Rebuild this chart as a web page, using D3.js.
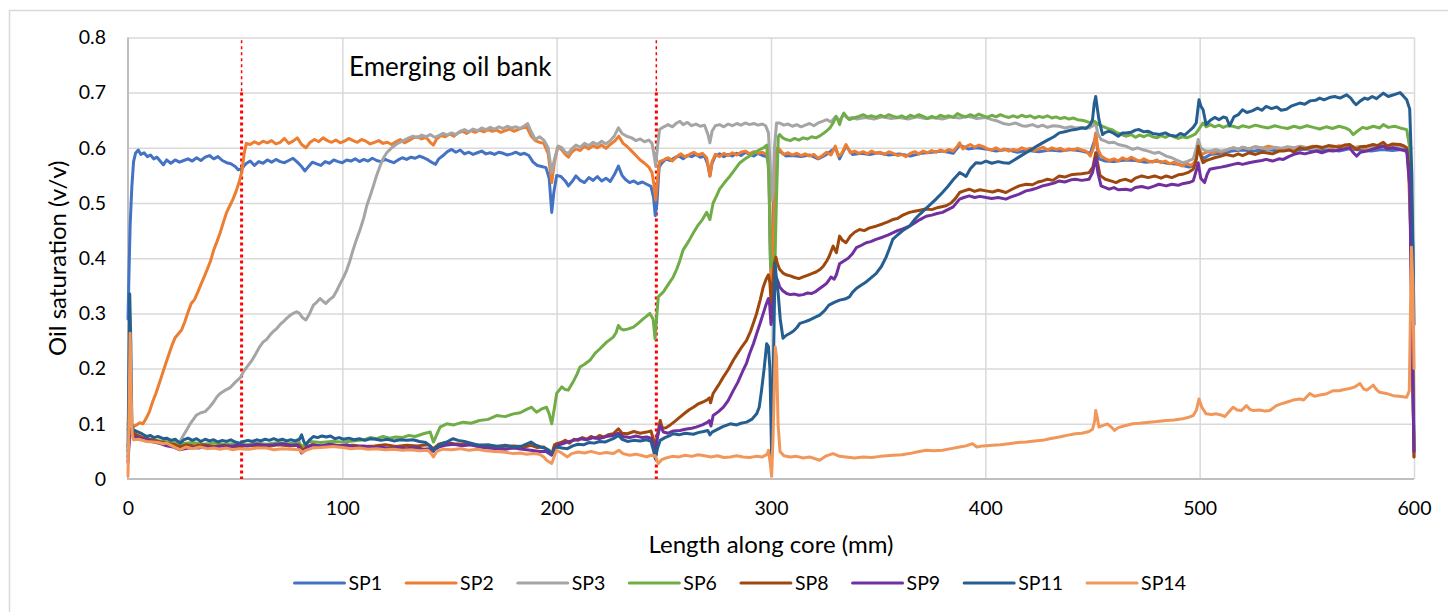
<!DOCTYPE html>
<html>
<head>
<meta charset="utf-8">
<script src="https://cdn.jsdelivr.net/npm/d3@7"></script>
<style>
  html, body { margin: 0; padding: 0; background: #fff; }
  svg { display: block; font-family: Lato, "Open Sans", sans-serif; }
</style>
</head>
<body>
<svg id="chart" width="1448" height="612"></svg>
<script>
// ---- data: oil saturation profiles along the core, [position (mm), saturation (v/v)] ----
const seriesNames = ["SP1", "SP2", "SP3", "SP6", "SP8", "SP9", "SP11", "SP14"];
const seriesColors = ["#4472C4", "#ED7D31", "#A5A5A5", "#70AD47", "#9E480E", "#7030A0", "#255E91", "#F1975A"];

const xTicks = [0, 100, 200, 300, 400, 500, 600];
const yTicks = [0, 0.1, 0.2, 0.3, 0.4, 0.5, 0.6, 0.7, 0.8];
const yTickLabels = ["0", "0.1", "0.2", "0.3", "0.4", "0.5", "0.6", "0.7", "0.8"];

const bankBounds = [53, 246.5];
const bankLabel = "Emerging oil bank";
const xTitle = "Length along core (mm)";
const yTitle = "Oil saturation (v/v)";

const sp1 = [[0,0.29],[0.5,0.38],[1,0.46],[1.8,0.53],[2.6,0.575],[3.5,0.59],[4.8,0.596],[6,0.588],[7.5,0.591],[9,0.584],[10.5,0.587],[12,0.58],[13.5,0.583],[15,0.576],[16.5,0.569],[18,0.578],[20,0.572],[22,0.578],[24,0.574],[26,0.577],[28,0.58],[30,0.576],[32,0.582],[34,0.577],[36,0.583],[38,0.586],[40,0.58],[42,0.584],[44,0.577],[46,0.573],[48,0.571],[50,0.566],[51.5,0.56],[53,0.562],[55,0.571],[57,0.576],[59,0.568],[61,0.575],[63,0.572],[65,0.578],[67,0.574],[69,0.579],[71,0.575],[73,0.573],[75,0.577],[77,0.581],[79,0.574],[81,0.566],[82.5,0.558],[84,0.565],[86,0.574],[88,0.571],[90,0.568],[92,0.575],[94,0.572],[96,0.578],[98,0.575],[100,0.573],[102,0.578],[104,0.576],[106,0.58],[108,0.575],[110,0.579],[112,0.576],[114,0.581],[116,0.577],[118,0.575],[120,0.579],[122,0.576],[124,0.573],[126,0.578],[128,0.582],[130,0.579],[132,0.583],[134,0.581],[136,0.585],[138,0.582],[140,0.578],[142,0.573],[143.5,0.57],[145,0.58],[147,0.586],[149,0.593],[151,0.597],[153,0.592],[155,0.596],[157,0.589],[159,0.592],[161,0.588],[163,0.591],[165,0.594],[167,0.589],[169,0.591],[171,0.588],[173,0.592],[175,0.59],[177,0.587],[179,0.589],[181,0.592],[183,0.588],[185,0.59],[187,0.586],[189,0.574],[191,0.568],[193,0.566],[195,0.564],[196.5,0.545],[197.7,0.483],[198.7,0.52],[200,0.55],[202,0.548],[204,0.54],[205.5,0.531],[207,0.538],[209,0.549],[211,0.541],[213,0.537],[215,0.546],[217,0.541],[219,0.548],[221,0.54],[223,0.545],[225,0.539],[227,0.552],[228.8,0.567],[230.5,0.55],[232,0.543],[234,0.537],[236,0.54],[238,0.535],[240,0.538],[242,0.534],[244,0.53],[245.2,0.51],[246,0.477],[246.8,0.5],[247.8,0.565],[249,0.572],[251,0.58],[253,0.577],[255,0.582],[257,0.585],[259,0.58],[261,0.586],[263,0.584],[265,0.588],[267,0.583],[269,0.585],[270.5,0.57],[271.5,0.549],[272.5,0.572],[274,0.585],[276,0.589],[278,0.584],[280,0.588],[282,0.585],[284,0.59],[286,0.586],[288,0.592],[290,0.588],[292,0.585],[294,0.59],[296,0.586],[298,0.584],[299,0.57],[299.7,0.4],[300.4,0.35],[301,0.45],[301.6,0.58],[302.5,0.59],[304,0.594],[307,0.585],[310,0.586],[314,0.584],[318,0.587],[322,0.58],[326,0.588],[330,0.6],[332,0.58],[335,0.603],[338,0.588],[342,0.59],[346,0.588],[350,0.591],[355,0.587],[360,0.589],[365,0.585],[370,0.59],[375,0.592],[380,0.594],[385,0.59],[388,0.605],[392,0.598],[396,0.6],[400,0.598],[405,0.594],[410,0.597],[415,0.592],[420,0.595],[425,0.593],[430,0.596],[435,0.594],[440,0.597],[445,0.594],[449,0.59],[451.5,0.62],[453,0.58],[456,0.576],[460,0.575],[465,0.578],[470,0.577],[475,0.574],[480,0.576],[485,0.572],[490,0.57],[495,0.565],[497.5,0.568],[499.5,0.6],[501.5,0.58],[505,0.588],[510,0.59],[515,0.594],[520,0.596],[525,0.594],[530,0.597],[535,0.595],[540,0.598],[545,0.596],[550,0.598],[555,0.595],[560,0.597],[565,0.594],[570,0.598],[575,0.596],[580,0.594],[585,0.597],[590,0.595],[594,0.597],[597,0.592],[598.5,0.5],[599.5,0.42],[600,0.06]];

const sp2 = [[0,0.06],[1,0.09],[2.5,0.095],[4,0.098],[5.5,0.102],[7,0.1],[8.5,0.11],[10,0.122],[11.5,0.14],[13,0.155],[14.5,0.172],[16,0.19],[17.5,0.208],[19,0.225],[20.5,0.242],[22,0.256],[23.5,0.263],[25,0.27],[26.5,0.285],[28,0.302],[29.5,0.318],[31,0.325],[32.5,0.338],[34,0.352],[35.5,0.366],[37,0.38],[38.5,0.395],[40,0.415],[41.5,0.43],[43,0.446],[44.5,0.465],[46,0.483],[47.5,0.495],[49,0.507],[50.5,0.522],[52,0.54],[53.2,0.558],[54.2,0.59],[55.2,0.608],[57,0.606],[59,0.611],[61,0.607],[63,0.612],[65,0.609],[67,0.613],[69,0.607],[71,0.61],[73,0.617],[75,0.608],[77,0.612],[79,0.618],[81,0.606],[83,0.6],[85,0.61],[87,0.615],[89,0.611],[91,0.618],[93,0.613],[95,0.61],[97,0.614],[99,0.609],[101,0.612],[103,0.617],[105,0.613],[107,0.61],[109,0.615],[111,0.612],[113,0.607],[115,0.61],[117,0.613],[119,0.608],[121,0.61],[123,0.606],[125,0.611],[127,0.615],[129,0.609],[131,0.613],[133,0.618],[135,0.62],[137,0.616],[139,0.619],[141,0.61],[142.5,0.605],[144,0.616],[146,0.622],[148,0.62],[150,0.625],[152,0.621],[154,0.627],[156,0.63],[158,0.626],[160,0.631],[162,0.628],[164,0.632],[166,0.629],[168,0.633],[170,0.63],[172,0.632],[174,0.628],[176,0.631],[178,0.634],[180,0.63],[182,0.633],[184,0.636],[186,0.638],[188,0.622],[190,0.613],[192,0.61],[194,0.608],[196,0.59],[197.7,0.537],[199,0.575],[200.5,0.602],[202,0.598],[204,0.588],[205.5,0.583],[207,0.592],[209,0.598],[211,0.595],[213,0.603],[215,0.598],[217,0.604],[219,0.6],[221,0.605],[223,0.599],[225,0.606],[227,0.612],[229,0.621],[231,0.608],[233,0.602],[235,0.594],[237,0.586],[239,0.578],[241,0.572],[243,0.565],[244.5,0.555],[245.5,0.53],[246.2,0.505],[247,0.54],[248,0.575],[250,0.578],[252,0.582],[254,0.576],[256,0.584],[258,0.589],[260,0.583],[262,0.588],[264,0.592],[266,0.587],[268,0.59],[270,0.582],[271.5,0.549],[272.5,0.575],[274,0.588],[276,0.584],[278,0.59],[280,0.586],[282,0.591],[284,0.587],[286,0.592],[288,0.594],[290,0.589],[292,0.593],[294,0.59],[296,0.592],[298,0.588],[299,0.57],[299.6,0.45],[300.2,0.33],[300.8,0.36],[301.4,0.5],[302,0.59],[303,0.6],[304,0.597],[306,0.588],[308,0.591],[310,0.587],[312,0.59],[314,0.586],[316,0.589],[318,0.585],[320,0.588],[322,0.581],[324,0.586],[326,0.592],[328,0.587],[330,0.603],[331.5,0.585],[333,0.59],[335,0.606],[337,0.591],[339,0.594],[341,0.59],[343,0.593],[345,0.589],[347,0.594],[349,0.59],[351,0.592],[353,0.588],[355,0.593],[357,0.59],[359,0.586],[361,0.588],[363,0.584],[365,0.59],[367,0.593],[369,0.589],[371,0.594],[373,0.591],[375,0.595],[377,0.592],[379,0.596],[381,0.593],[383,0.597],[385,0.594],[387,0.603],[388,0.609],[389.5,0.598],[391,0.602],[393,0.606],[395,0.601],[397,0.605],[399,0.602],[401,0.598],[403,0.596],[405,0.6],[407,0.595],[409,0.598],[411,0.594],[413,0.597],[415,0.595],[417,0.6],[419,0.597],[421,0.599],[423,0.595],[425,0.598],[427,0.601],[429,0.596],[431,0.6],[433,0.597],[435,0.599],[437,0.595],[439,0.598],[441,0.596],[443,0.599],[445,0.596],[447,0.594],[449,0.585],[450.5,0.6],[451.5,0.627],[452.5,0.598],[454,0.585],[456,0.58],[458,0.577],[460,0.58],[462,0.576],[464,0.582],[466,0.578],[468,0.583],[470,0.579],[472,0.575],[474,0.58],[476,0.576],[478,0.574],[480,0.578],[482,0.573],[484,0.576],[486,0.571],[488,0.574],[490,0.57],[492,0.567],[494,0.572],[496,0.568],[498,0.575],[499.3,0.603],[500.5,0.588],[502,0.59],[504,0.593],[506,0.59],[508,0.594],[510,0.592],[512,0.595],[514,0.598],[516,0.6],[518,0.597],[520,0.601],[523,0.598],[526,0.602],[529,0.599],[532,0.603],[535,0.6],[538,0.597],[541,0.601],[544,0.598],[547,0.602],[550,0.6],[553,0.603],[556,0.599],[559,0.602],[562,0.6],[565,0.604],[568,0.601],[571,0.598],[574,0.602],[577,0.599],[580,0.603],[583,0.6],[586,0.604],[589,0.601],[592,0.603],[595,0.6],[597,0.598],[598.5,0.45],[600,0.05]];

const sp3 = [[0,0.1],[1,0.085],[2.5,0.078],[5,0.075],[8,0.072],[11,0.07],[14,0.068],[17,0.066],[20,0.066],[22,0.064],[24.3,0.068],[26,0.08],[27.4,0.089],[29,0.1],[30.5,0.108],[32,0.116],[34,0.12],[36,0.122],[38,0.13],[40,0.14],[41.5,0.149],[43,0.155],[45,0.16],[47.5,0.165],[50,0.175],[52.3,0.183],[54,0.195],[55.5,0.203],[57.5,0.213],[59.5,0.226],[61.5,0.24],[63,0.248],[64.7,0.253],[66.5,0.262],[68,0.268],[69.5,0.273],[71,0.28],[72.5,0.285],[74,0.291],[75.5,0.296],[77,0.3],[78.7,0.303],[80,0.3],[81.5,0.292],[83,0.288],[84.5,0.298],[86.5,0.315],[88,0.32],[89.6,0.327],[91,0.322],[92.3,0.318],[94,0.325],[95.8,0.33],[97.5,0.342],[99,0.354],[100.5,0.365],[102,0.378],[103.5,0.395],[105,0.415],[106.7,0.435],[108.3,0.452],[110,0.473],[111.4,0.495],[113,0.513],[114.5,0.531],[116,0.55],[117.6,0.567],[119,0.58],[120.7,0.591],[122.5,0.598],[125,0.606],[127,0.61],[129,0.614],[131,0.618],[133,0.621],[135,0.618],[137,0.623],[139,0.62],[141,0.624],[143,0.619],[145,0.622],[147,0.626],[149,0.623],[151,0.627],[153,0.624],[155,0.63],[157,0.633],[159,0.629],[161,0.634],[163,0.631],[165,0.636],[167,0.633],[169,0.637],[171,0.634],[173,0.638],[175,0.635],[177,0.639],[179,0.636],[181,0.638],[183,0.635],[185,0.64],[186.5,0.644],[188,0.63],[190,0.615],[192,0.62],[194,0.614],[196,0.6],[197.7,0.555],[199,0.58],[200.8,0.603],[202.5,0.6],[204,0.592],[205.5,0.59],[207,0.598],[209,0.605],[211,0.601],[213,0.608],[215,0.604],[217,0.61],[219,0.606],[221,0.612],[223,0.607],[225,0.613],[227,0.622],[228.8,0.636],[230.5,0.626],[232.7,0.621],[235,0.618],[237,0.613],[239,0.616],[241,0.611],[243,0.614],[244.5,0.608],[245.5,0.585],[246.2,0.567],[247,0.6],[248,0.633],[250,0.638],[252,0.642],[254,0.638],[256,0.645],[257.5,0.648],[259,0.642],[261,0.646],[263,0.64],[265,0.643],[267,0.639],[269,0.641],[270.5,0.625],[271.5,0.609],[272.5,0.63],[274,0.64],[276,0.642],[278,0.638],[280,0.643],[282,0.64],[284,0.644],[286,0.641],[288,0.645],[290,0.642],[292,0.644],[294,0.641],[296,0.643],[297.5,0.64],[298.8,0.627],[299.6,0.57],[300.3,0.505],[301,0.52],[301.6,0.6],[302.6,0.645],[304,0.645],[306,0.641],[308,0.643],[310,0.639],[312,0.642],[314,0.638],[316,0.641],[318,0.644],[320,0.64],[322,0.645],[324,0.648],[326,0.651],[328,0.647],[330,0.656],[332,0.65],[334,0.66],[336,0.653],[338,0.655],[340,0.652],[344,0.655],[348,0.652],[352,0.656],[356,0.653],[360,0.655],[364,0.652],[368,0.656],[372,0.653],[376,0.655],[380,0.652],[384,0.656],[388,0.654],[392,0.657],[396,0.653],[400,0.655],[403,0.651],[406,0.648],[408.5,0.644],[411,0.642],[414,0.645],[417,0.64],[419,0.639],[422,0.642],[424.5,0.638],[426.7,0.641],[429,0.637],[431.5,0.64],[434.5,0.639],[437,0.636],[440,0.638],[442,0.636],[445,0.637],[448.4,0.636],[450.3,0.64],[451.5,0.645],[452.5,0.625],[454,0.615],[456,0.612],[457.8,0.609],[460,0.61],[462,0.606],[465.5,0.603],[468.8,0.597],[471,0.6],[473,0.597],[476,0.594],[479,0.59],[481,0.592],[484.4,0.585],[487,0.582],[489,0.578],[492,0.573],[494,0.575],[497,0.58],[498.5,0.6],[499.3,0.615],[500.5,0.6],[501.6,0.597],[503,0.594],[505,0.594],[507.5,0.597],[510,0.594],[512.5,0.596],[515.6,0.6],[518,0.597],[520,0.601],[523,0.598],[526,0.602],[529,0.6],[532,0.597],[535,0.601],[538,0.599],[541,0.602],[544,0.6],[547,0.603],[550,0.6],[553,0.598],[556,0.602],[559,0.6],[562,0.603],[565,0.601],[568,0.598],[571,0.602],[574,0.6],[577,0.603],[580,0.6],[583,0.603],[586,0.601],[589,0.604],[592,0.601],[595,0.599],[596.6,0.597],[598,0.55],[599,0.3],[600,0.04]];

const sp6 = [[0,0.09],[1,0.085],[2.5,0.08],[5,0.076],[10,0.072],[15,0.069],[20,0.067],[25,0.064],[30,0.066],[35,0.063],[40,0.065],[45,0.063],[50,0.064],[55,0.062],[60,0.065],[65,0.063],[70,0.066],[75,0.064],[80,0.066],[81,0.058],[83,0.065],[85,0.068],[90,0.066],[95,0.068],[100,0.067],[105,0.069],[110,0.071],[113,0.075],[116,0.073],[119,0.077],[122,0.074],[125,0.076],[128,0.075],[131,0.079],[134,0.077],[137.8,0.082],[141,0.085],[142.5,0.067],[144,0.08],[145.6,0.094],[148.7,0.1],[152,0.098],[156.4,0.103],[160,0.101],[164,0.106],[168,0.108],[172,0.115],[176,0.113],[179.8,0.118],[183,0.12],[186,0.126],[188.3,0.13],[190.6,0.121],[193,0.127],[195.3,0.13],[196.5,0.118],[197.7,0.1],[199,0.13],[200,0.155],[202.4,0.167],[204,0.162],[205.4,0.161],[207.7,0.176],[209.5,0.19],[210.9,0.203],[213,0.208],[215.5,0.215],[218,0.228],[220.2,0.236],[223.3,0.248],[226.4,0.257],[227.7,0.265],[228.8,0.278],[230,0.272],[231.1,0.27],[233.5,0.272],[235.8,0.275],[238,0.282],[240.4,0.29],[242,0.295],[243.5,0.3],[245,0.29],[245.9,0.254],[246.6,0.29],[247.4,0.33],[249.8,0.339],[252,0.352],[254.4,0.366],[256,0.38],[257.5,0.396],[259,0.415],[261.5,0.43],[263.8,0.446],[266,0.46],[268,0.47],[270,0.483],[271.5,0.47],[273,0.5],[274.5,0.512],[276,0.525],[278.5,0.538],[280.9,0.549],[283,0.56],[285.5,0.573],[288,0.58],[290,0.585],[292.5,0.592],[294.9,0.597],[296.5,0.6],[298,0.605],[299,0.55],[299.8,0.384],[300.5,0.395],[301.2,0.4],[301.8,0.385],[302.5,0.5],[303.4,0.62],[304,0.624],[305.5,0.618],[307,0.615],[309,0.613],[311,0.617],[313,0.614],[315,0.618],[317,0.616],[319,0.62],[321,0.618],[323,0.622],[325.8,0.63],[327.5,0.636],[329,0.645],[330.4,0.657],[331.5,0.648],[332,0.642],[333,0.655],[334,0.663],[335.5,0.655],[336.6,0.651],[338.5,0.654],[341,0.657],[343,0.66],[345,0.656],[347,0.658],[349,0.655],[351,0.659],[353,0.656],[355,0.66],[357,0.657],[359,0.655],[361,0.658],[363,0.654],[365,0.659],[367,0.656],[369,0.66],[371,0.657],[373,0.653],[375,0.657],[377,0.654],[379,0.659],[381,0.656],[383,0.658],[385,0.655],[387,0.662],[389,0.658],[391,0.656],[393,0.66],[395,0.657],[397,0.661],[399,0.658],[401,0.655],[403,0.659],[405,0.656],[407,0.66],[409,0.657],[411,0.655],[413,0.658],[415,0.655],[417,0.659],[419,0.656],[421,0.658],[423,0.654],[425,0.657],[427,0.655],[429,0.658],[431,0.654],[433,0.656],[435,0.653],[437,0.655],[439,0.652],[441,0.654],[443,0.651],[445,0.65],[447,0.648],[449,0.645],[451,0.648],[452.5,0.643],[454.7,0.639],[457,0.635],[459,0.633],[461,0.628],[463,0.625],[465.5,0.621],[468,0.624],[470,0.619],[472,0.623],[474,0.62],[476,0.624],[478,0.62],[480,0.618],[482,0.622],[484,0.619],[486,0.623],[488,0.62],[490,0.617],[492,0.62],[494,0.618],[496,0.621],[498,0.625],[499.5,0.633],[501.6,0.645],[503,0.638],[505,0.642],[507,0.638],[509,0.641],[511,0.637],[513,0.64],[515.6,0.639],[518,0.636],[520,0.64],[523,0.637],[526,0.641],[529,0.638],[532,0.636],[535,0.64],[538,0.637],[541,0.635],[544,0.639],[547,0.636],[550,0.64],[553,0.637],[556,0.634],[559,0.638],[562,0.635],[565,0.639],[568,0.636],[570,0.632],[571.6,0.624],[573.5,0.63],[576,0.637],[578,0.635],[581,0.639],[584,0.636],[585.7,0.642],[588,0.637],[591,0.639],[593.5,0.636],[596.6,0.633],[598,0.6],[599,0.3],[600,0.05]];

const sp8 = [[0,0.04],[0.8,0.09],[2,0.085],[4,0.08],[7,0.075],[10,0.072],[14,0.068],[18,0.065],[22,0.062],[24.5,0.058],[27,0.062],[31,0.06],[35,0.062],[40,0.059],[45,0.061],[50,0.058],[55,0.06],[60,0.061],[65,0.059],[70,0.062],[75,0.06],[80,0.061],[81.5,0.052],[83,0.058],[86,0.062],[90,0.06],[95,0.062],[100,0.06],[105,0.061],[110,0.059],[115,0.06],[120,0.062],[125,0.059],[130,0.061],[135,0.06],[140,0.062],[142.5,0.055],[145,0.063],[148,0.066],[152,0.064],[156,0.063],[160,0.062],[165,0.061],[170,0.06],[175,0.059],[180,0.06],[185,0.058],[188,0.061],[191,0.057],[194,0.058],[197.7,0.045],[199,0.062],[200,0.064],[202,0.066],[204,0.07],[206,0.065],[208,0.072],[210,0.07],[212,0.075],[214,0.072],[216,0.077],[218,0.074],[220,0.079],[222,0.076],[224,0.08],[226.4,0.082],[228.8,0.091],[230.5,0.083],[233,0.082],[236,0.086],[239,0.083],[242,0.085],[244,0.087],[245.3,0.07],[246,0.052],[247,0.08],[248.3,0.106],[249.3,0.092],[251,0.093],[253,0.098],[255,0.104],[257.5,0.112],[260,0.12],[262,0.126],[263.8,0.13],[266,0.136],[268,0.139],[270,0.143],[271.3,0.147],[271.8,0.138],[273,0.155],[275.5,0.17],[277.8,0.185],[280,0.198],[282.4,0.215],[284.5,0.228],[286.5,0.24],[288.6,0.251],[290.5,0.268],[292,0.285],[293.3,0.3],[295,0.325],[296.4,0.348],[297.7,0.362],[298.8,0.37],[299.5,0.355],[300.2,0.31],[300.8,0.35],[301.5,0.39],[302.3,0.402],[303,0.39],[304,0.38],[305.6,0.373],[307,0.37],[309,0.368],[311,0.365],[313,0.363],[315,0.366],[317,0.369],[319,0.372],[321,0.375],[323,0.38],[324.5,0.386],[326,0.395],[327,0.402],[329,0.422],[330.5,0.41],[332,0.44],[333.5,0.432],[335,0.428],[337,0.44],[339,0.447],[341.3,0.452],[343.5,0.45],[346,0.455],[349,0.458],[352,0.462],[354.5,0.466],[356.8,0.47],[359,0.472],[361.5,0.478],[364.6,0.483],[367,0.485],[369.5,0.487],[372,0.489],[375,0.488],[378,0.492],[381.7,0.495],[384,0.5],[386,0.508],[388,0.519],[390,0.522],[392.5,0.525],[395,0.521],[397.5,0.524],[400.3,0.522],[403.4,0.52],[406,0.523],[409.6,0.519],[412,0.524],[415.8,0.531],[419,0.534],[422,0.533],[424.5,0.538],[426.7,0.54],[429,0.543],[431.5,0.541],[434.5,0.549],[437,0.547],[440,0.551],[442,0.552],[445,0.553],[448.4,0.555],[450.2,0.565],[451.5,0.591],[452.5,0.57],[453.5,0.55],[456,0.543],[458.5,0.54],[461,0.537],[463,0.541],[465.5,0.543],[468,0.539],[470,0.545],[473,0.549],[476,0.546],[479,0.549],[482,0.545],[484.4,0.549],[487,0.546],[490,0.551],[492,0.552],[495,0.556],[497,0.561],[498.5,0.58],[499.3,0.603],[500.5,0.585],[501.6,0.573],[503,0.577],[504.7,0.579],[507,0.582],[510,0.585],[512.5,0.588],[515.6,0.585],[518,0.589],[520,0.586],[523,0.591],[526,0.588],[529,0.592],[531,0.591],[534,0.589],[537,0.594],[539,0.594],[542,0.596],[544,0.592],[546.7,0.6],[549,0.598],[552,0.601],[554.5,0.603],[557,0.6],[560,0.604],[562.3,0.603],[565,0.601],[567.5,0.605],[570,0.606],[572,0.6],[573.5,0.597],[575,0.602],[578,0.603],[581,0.606],[583,0.604],[585.7,0.61],[587.5,0.603],[590,0.607],[593.5,0.606],[595,0.604],[596.6,0.6],[598,0.55],[599,0.3],[600,0.04]];

const sp9 = [[0,0.03],[0.8,0.085],[2.5,0.077],[5,0.074],[8.7,0.071],[12,0.067],[15,0.064],[18,0.06],[21,0.058],[24,0.053],[27,0.055],[30,0.057],[33,0.056],[36,0.059],[40,0.057],[44,0.06],[48,0.059],[52,0.062],[56,0.06],[60,0.063],[64,0.061],[68,0.062],[72,0.064],[76,0.061],[79,0.062],[81,0.047],[83,0.055],[86,0.062],[90,0.06],[94,0.063],[98,0.06],[102,0.062],[106,0.058],[110,0.06],[114,0.057],[118,0.058],[122,0.055],[126,0.057],[130,0.055],[134,0.057],[138,0.054],[140.5,0.055],[142.5,0.05],[145,0.058],[148,0.061],[152,0.063],[156,0.06],[160,0.062],[164,0.058],[168,0.056],[172,0.055],[176,0.054],[180,0.056],[184,0.054],[188,0.052],[192,0.05],[195,0.05],[197.7,0.043],[199,0.055],[200,0.06],[202,0.063],[205,0.067],[208,0.07],[211,0.073],[214,0.071],[217,0.075],[220,0.073],[223,0.077],[226.4,0.079],[228.8,0.083],[231,0.077],[234,0.075],[237,0.078],[240,0.075],[242,0.076],[244,0.074],[245.2,0.06],[246,0.046],[247,0.075],[248.3,0.097],[249.8,0.085],[252,0.083],[254.5,0.087],[257.5,0.088],[260,0.09],[263,0.092],[265,0.094],[268,0.098],[270.5,0.103],[271.2,0.106],[272,0.096],[273,0.115],[275.5,0.122],[277.8,0.13],[280,0.142],[282.4,0.16],[284.5,0.175],[287,0.197],[288.6,0.21],[290,0.227],[291.8,0.245],[293.3,0.263],[295,0.283],[296.4,0.3],[297.6,0.315],[298.8,0.327],[299.4,0.315],[300,0.28],[300.7,0.3],[301.5,0.34],[302.5,0.365],[303.5,0.355],[304,0.348],[305.5,0.341],[307.3,0.336],[309,0.334],[311,0.335],[313,0.333],[315,0.334],[317,0.337],[319,0.336],[321,0.34],[322.7,0.345],[324.5,0.35],[325.8,0.354],[327,0.36],[328,0.366],[329.5,0.362],[330.5,0.37],[332,0.39],[334,0.395],[336,0.4],[338,0.408],[339.8,0.419],[342,0.423],[344.4,0.428],[346.5,0.43],[349,0.434],[352,0.438],[354.5,0.442],[356.8,0.446],[359,0.45],[361.5,0.453],[364.6,0.458],[367,0.464],[369.5,0.47],[372.4,0.476],[375,0.478],[377.5,0.481],[380,0.483],[382.5,0.488],[385,0.493],[388,0.507],[390,0.51],[392.5,0.513],[395,0.51],[397.5,0.512],[400.3,0.51],[403,0.508],[406,0.51],[409.6,0.507],[412,0.511],[415.8,0.516],[419,0.522],[421.5,0.524],[424,0.527],[426.7,0.531],[429,0.533],[432,0.536],[434.5,0.54],[437,0.538],[440,0.542],[442,0.543],[445,0.541],[448.4,0.543],[450,0.555],[451.5,0.582],[452.5,0.555],[454,0.531],[456,0.528],[457.8,0.525],[460,0.528],[462,0.524],[465.5,0.525],[468,0.523],[470,0.528],[473,0.53],[476,0.527],[479,0.531],[481,0.534],[484.4,0.531],[487,0.534],[490,0.532],[492,0.535],[495,0.537],[497,0.54],[498.5,0.56],[499.3,0.573],[500.5,0.545],[502.3,0.537],[503.5,0.552],[504.7,0.561],[507,0.563],[510,0.565],[512.5,0.567],[515.6,0.57],[518,0.572],[520,0.57],[523,0.573],[526,0.575],[529,0.577],[531,0.579],[534,0.576],[537,0.58],[539,0.579],[542,0.585],[544,0.588],[546.7,0.591],[549,0.589],[552,0.592],[554.5,0.594],[557,0.591],[560,0.595],[562.3,0.594],[565,0.596],[567.5,0.598],[570,0.6],[571.5,0.592],[573.2,0.585],[575,0.592],[578,0.594],[581,0.598],[583,0.6],[585.7,0.603],[587.5,0.598],[590,0.6],[593.5,0.597],[596.6,0.595],[598,0.53],[599,0.28],[600,0.05]];

const sp11 = [[0,0.05],[0.4,0.2],[0.8,0.335],[1.3,0.25],[1.8,0.1],[2.5,0.089],[4.8,0.085],[6.5,0.082],[8.7,0.077],[10.5,0.079],[12,0.075],[14,0.077],[16.5,0.073],[18,0.074],[20,0.07],[22,0.072],[24.3,0.065],[26,0.071],[28,0.074],[30,0.07],[32,0.073],[34,0.068],[36,0.072],[38,0.069],[40,0.071],[42,0.067],[44,0.07],[46,0.068],[48,0.071],[50,0.067],[52,0.065],[54,0.068],[56,0.07],[58,0.068],[60,0.071],[62,0.069],[64,0.072],[66,0.07],[68,0.073],[70,0.07],[72,0.072],[74,0.069],[76,0.071],[78,0.069],[80,0.072],[81,0.08],[82,0.068],[83,0.062],[84.5,0.07],[86.5,0.077],[88.5,0.075],[90.5,0.078],[92.5,0.076],[94.5,0.078],[96.5,0.073],[98.5,0.075],[100.5,0.072],[103,0.074],[105.5,0.071],[108,0.073],[110.5,0.07],[113,0.073],[115.5,0.072],[118,0.07],[121,0.072],[124,0.069],[127,0.071],[130,0.07],[133,0.071],[136,0.068],[139,0.066],[141,0.06],[142.5,0.052],[144,0.058],[146,0.063],[148.7,0.067],[151.7,0.073],[154,0.07],[157,0.068],[160,0.065],[164,0.061],[168,0.062],[172,0.059],[176,0.061],[180,0.058],[184,0.06],[188,0.067],[190,0.062],[192.5,0.058],[195,0.055],[196.5,0.052],[197.7,0.046],[199,0.052],[200,0.058],[202.5,0.056],[205,0.055],[207.5,0.06],[210,0.063],[212.5,0.062],[215,0.066],[217.5,0.065],[220,0.068],[222.5,0.067],[225,0.071],[226.4,0.073],[228.8,0.079],[230.5,0.072],[233,0.068],[236,0.07],[239,0.069],[242,0.071],[244,0.068],[245.3,0.05],[246,0.037],[247,0.055],[248.3,0.07],[250.5,0.075],[252.5,0.078],[254.4,0.082],[257,0.08],[260,0.083],[263.8,0.081],[266,0.084],[268.5,0.086],[270.5,0.088],[271.5,0.08],[272.5,0.085],[275,0.09],[277.5,0.095],[281,0.1],[284,0.098],[286,0.101],[288.6,0.103],[291,0.108],[293.3,0.118],[294.5,0.13],[295.6,0.161],[296.8,0.2],[298,0.245],[298.8,0.24],[299.5,0.2],[300.3,0.04],[301.1,0.2],[301.9,0.39],[302.6,0.36],[303.3,0.338],[304.3,0.29],[305.6,0.255],[307,0.26],[308.9,0.264],[310.5,0.268],[312,0.274],[313.5,0.282],[316,0.285],[318,0.288],[320,0.292],[322.7,0.297],[325,0.305],[327,0.315],[329.5,0.32],[332,0.324],[334.5,0.326],[336.6,0.33],[338,0.338],[339.8,0.345],[342,0.351],[344.4,0.357],[346.5,0.364],[349,0.372],[351.5,0.385],[353.7,0.402],[355,0.415],[356.8,0.434],[359,0.442],[361.5,0.45],[364.6,0.458],[367,0.47],[369.5,0.48],[372,0.489],[374.5,0.498],[377,0.507],[380,0.519],[382.5,0.53],[385,0.542],[388,0.555],[389.5,0.552],[391,0.548],[393,0.562],[395.6,0.573],[398,0.572],[400.3,0.576],[403,0.572],[406,0.575],[408.5,0.573],[411,0.572],[413.5,0.578],[416,0.584],[419,0.591],[422,0.598],[424.5,0.604],[426.7,0.609],[429,0.614],[432,0.62],[434.5,0.627],[437,0.629],[440,0.632],[442,0.633],[445,0.636],[447,0.635],[449,0.642],[450,0.651],[450.8,0.68],[451.5,0.693],[452.3,0.67],[453,0.651],[454.7,0.624],[456,0.628],[457.8,0.63],[460,0.626],[462,0.621],[464,0.627],[465.5,0.627],[468,0.628],[470,0.632],[471.7,0.633],[474,0.629],[476,0.63],[478,0.626],[481.3,0.624],[484,0.627],[486,0.623],[489,0.621],[491,0.626],[493,0.623],[495,0.63],[497,0.637],[498.4,0.645],[499.7,0.687],[500.6,0.675],[501.6,0.669],[503,0.642],[505,0.65],[507,0.655],[509,0.651],[511,0.656],[512.5,0.654],[514,0.64],[516,0.656],[518,0.66],[520,0.669],[522,0.664],[524.5,0.667],[527,0.672],[529,0.668],[531,0.675],[533.5,0.671],[536,0.674],[538,0.668],[540.5,0.67],[543,0.676],[546.7,0.681],[549,0.679],[551.5,0.685],[554,0.686],[556,0.69],[558,0.687],[560.5,0.691],[563,0.693],[565.5,0.69],[568.5,0.696],[570.5,0.69],[572,0.682],[573,0.678],[575,0.685],[577,0.69],[578.5,0.688],[580.5,0.693],[582.5,0.689],[585.7,0.699],[588,0.693],[590.5,0.696],[593.5,0.7],[595,0.694],[596.6,0.687],[598,0.67],[599,0.55],[600,0.28]];

const sp14 = [[0,0.005],[0.5,0.12],[1,0.264],[1.5,0.15],[2,0.08],[2.5,0.071],[5,0.072],[8.7,0.068],[11.8,0.067],[14,0.066],[16.5,0.064],[18,0.065],[21,0.059],[24.3,0.053],[27,0.058],[30,0.055],[33.6,0.058],[37,0.055],[40,0.056],[43,0.054],[46,0.056],[49,0.053],[52,0.055],[56,0.054],[60,0.056],[64.7,0.056],[68,0.053],[72,0.055],[76,0.054],[80,0.053],[81.5,0.048],[83,0.052],[86,0.056],[90,0.057],[95.8,0.059],[100,0.057],[104,0.055],[108,0.056],[112,0.054],[116,0.055],[120,0.053],[124,0.054],[128,0.052],[132,0.053],[136,0.051],[140,0.052],[141.5,0.046],[142.5,0.04],[144,0.05],[147,0.054],[151,0.053],[155,0.055],[159,0.052],[163,0.054],[167,0.051],[171,0.05],[175,0.049],[179.8,0.046],[183,0.047],[186,0.045],[189,0.046],[192,0.045],[194,0.04],[195.3,0.034],[197.7,0.028],[199,0.042],[200,0.052],[202,0.048],[205,0.04],[207,0.046],[210,0.049],[213,0.047],[216,0.05],[220,0.046],[223,0.048],[226.4,0.046],[229,0.052],[231,0.046],[234,0.043],[237,0.045],[240,0.042],[242,0.04],[244,0.043],[246,0.042],[247.4,0.028],[249,0.035],[251,0.038],[254,0.041],[257,0.04],[260,0.043],[263,0.041],[266,0.044],[269,0.042],[272,0.04],[275,0.042],[278,0.039],[281,0.04],[284,0.042],[287,0.04],[290,0.039],[293,0.041],[296,0.04],[298.3,0.045],[298.8,0.052],[299.6,0.03],[300.3,0.005],[301,0.08],[302,0.239],[302.6,0.22],[303.3,0.1],[304.2,0.05],[306,0.042],[308.9,0.04],[312,0.041],[315,0.038],[318,0.04],[322.7,0.034],[325.8,0.042],[329,0.046],[332,0.041],[335,0.04],[339,0.038],[343,0.04],[347,0.039],[351,0.041],[354,0.042],[357,0.043],[361,0.044],[364.6,0.046],[368,0.049],[372.4,0.052],[376,0.051],[380,0.052],[384,0.055],[388,0.058],[391,0.06],[394,0.064],[396,0.058],[399,0.06],[403.4,0.061],[407,0.062],[411,0.064],[415,0.066],[419,0.067],[423,0.069],[426.7,0.07],[430,0.073],[434.5,0.076],[438,0.079],[442,0.082],[445,0.083],[448.4,0.086],[450,0.09],[451,0.105],[451.5,0.124],[452.3,0.11],[453,0.094],[455,0.097],[457,0.1],[458.5,0.095],[460.3,0.088],[462,0.093],[465.5,0.097],[468.8,0.1],[472,0.101],[476.6,0.103],[480,0.104],[484.4,0.106],[488,0.107],[492,0.109],[495,0.112],[497,0.115],[498.5,0.125],[499.7,0.145],[501,0.13],[503,0.118],[505.5,0.117],[507.8,0.118],[510,0.116],[511.7,0.113],[513.5,0.121],[515.6,0.13],[517.5,0.125],[519.5,0.124],[521.8,0.133],[523.5,0.126],[525,0.124],[528,0.125],[530.5,0.123],[532.7,0.124],[535.8,0.133],[538,0.136],[540.5,0.139],[543.6,0.143],[546.7,0.145],[548.5,0.143],[551.4,0.155],[553.5,0.15],[556,0.152],[559,0.154],[562.3,0.16],[565,0.16],[567.5,0.162],[570,0.164],[572.5,0.167],[574.8,0.173],[576.5,0.163],[578,0.161],[581,0.17],[582.5,0.162],[584,0.157],[587,0.155],[590.3,0.151],[593,0.15],[596.6,0.148],[597.8,0.16],[598.8,0.42],[599.5,0.35],[600,0.2]];

const seriesData = [sp1, sp2, sp3, sp6, sp8, sp9, sp11, sp14];

// ---- layout ----
const plot = { left: 128, right: 1414, top: 37.4, bottom: 479 };
const FONT_TICK = 19.5, FONT_TITLE = 24, FONT_NOTE = 26, FONT_LEGEND = 19.5;
const LINE_W = 3;

const svg = d3.select("#chart");

const x = d3.scaleLinear().domain([0, 600]).range([plot.left, plot.right]);
const y = d3.scaleLinear().domain([0, 0.8]).range([plot.bottom, plot.top]);

// chart area frame
svg.append("rect")
  .attr("x", 9.5).attr("y", 10.5)
  .attr("width", 1445).attr("height", 610)
  .attr("fill", "#fff").attr("stroke", "#d9d9d9").attr("stroke-width", 1.5);

// gridlines
const gridY = svg.append("g").attr("transform", `translate(${plot.left},0)`)
  .call(d3.axisLeft(y).tickValues(yTicks.slice(1)).tickSize(-(plot.right - plot.left)).tickFormat(""));
const gridX = svg.append("g").attr("transform", `translate(0,${plot.bottom})`)
  .call(d3.axisBottom(x).tickValues(xTicks.slice(1)).tickSize(-(plot.bottom - plot.top)).tickFormat(""));
[gridY, gridX].forEach(g => {
  g.select(".domain").remove();
  g.selectAll("line").attr("stroke", "#d9d9d9").attr("stroke-width", 1.5);
});

// axis lines
svg.append("line")
  .attr("x1", x(0)).attr("x2", x(0)).attr("y1", y(0.8)).attr("y2", y(0) + 1)
  .attr("stroke", "#bfbfbf").attr("stroke-width", 2);
svg.append("line")
  .attr("x1", x(0) - 1).attr("x2", x(600)).attr("y1", y(0)).attr("y2", y(0))
  .attr("stroke", "#bfbfbf").attr("stroke-width", 2);

// tick labels
const axY = svg.append("g").attr("transform", `translate(${plot.left},0)`)
  .call(d3.axisLeft(y).tickValues(yTicks).tickSize(0).tickPadding(22)
    .tickFormat((d, i) => yTickLabels[i]));
const axX = svg.append("g").attr("transform", `translate(0,${plot.bottom})`)
  .call(d3.axisBottom(x).tickValues(xTicks).tickSize(0).tickPadding(22)
    .tickFormat(d => String(d)));
[axY, axX].forEach(g => {
  g.select(".domain").remove();
  g.selectAll("text").attr("font-family", "Lato, sans-serif")
    .attr("font-size", FONT_TICK).attr("fill", "#000");
});

// oil bank boundaries (red dotted)
bankBounds.forEach(b => {
  svg.append("line")
    .attr("x1", x(b)).attr("x2", x(b)).attr("y1", y(0.795)).attr("y2", y(0.7))
    .attr("stroke", "#ff0000").attr("stroke-width", 1.5).attr("stroke-dasharray", "3,3");
  svg.append("line")
    .attr("x1", x(b)).attr("x2", x(b)).attr("y1", y(0.7)).attr("y2", y(0))
    .attr("stroke", "#ff0000").attr("stroke-width", 3).attr("stroke-dasharray", "3,3");
});

// series lines
const line = d3.line().x(d => x(d[0])).y(d => y(d[1]));
const linesG = svg.append("g");
seriesData.forEach((data, i) => {
  linesG.append("path")
    .datum(data)
    .attr("d", line)
    .attr("fill", "none")
    .attr("stroke", seriesColors[i])
    .attr("stroke-width", LINE_W)
    .attr("stroke-linejoin", "round")
    .attr("stroke-linecap", "round");
});

// annotation
svg.append("text")
  .attr("x", 349).attr("y", 76)
  .attr("font-size", FONT_NOTE).attr("fill", "#000")
  .text(bankLabel);

// axis titles
svg.append("text")
  .attr("x", (plot.left + plot.right) / 2).attr("y", 553)
  .attr("text-anchor", "middle").attr("font-size", FONT_TITLE).attr("fill", "#000")
  .text(xTitle);
svg.append("text")
  .attr("transform", `translate(66,${(plot.top + plot.bottom) / 2}) rotate(-90)`)
  .attr("text-anchor", "middle").attr("font-size", FONT_TITLE).attr("fill", "#000")
  .text(yTitle);

// legend
const legend = svg.append("g").attr("transform", "translate(294.5,583)");
let lx = 0;
seriesNames.forEach((name, i) => {
  const item = legend.append("g").attr("transform", `translate(${lx},0)`);
  item.append("line")
    .attr("x1", 0).attr("x2", 50).attr("y1", 0).attr("y2", 0)
    .attr("stroke", seriesColors[i]).attr("stroke-width", LINE_W).attr("stroke-linecap", "round");
  const t = item.append("text")
    .attr("x", 54).attr("y", 0).attr("dy", "0.35em")
    .attr("font-size", FONT_LEGEND).attr("fill", "#000")
    .text(name);
  lx += 54 + t.node().getComputedTextLength() + 24;
});
</script>
</body>
</html>
